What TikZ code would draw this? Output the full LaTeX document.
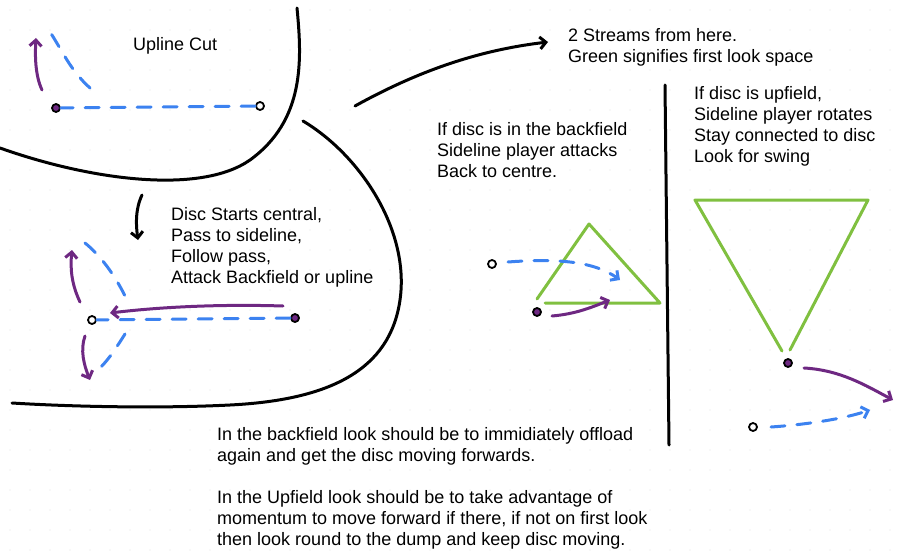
\documentclass[tikz,border=0pt]{standalone}
\usepackage{fontspec}
\setmainfont{Liberation Sans}
\usetikzlibrary{arrows.meta}
\definecolor{cutblue}{HTML}{3C82F0}
\definecolor{runpurple}{HTML}{6E2882}
\definecolor{spacegreen}{HTML}{80C040}
\begin{document}
\begin{tikzpicture}[x=1pt,y=-1pt,line cap=round,line join=round,
  pen/.style={line width=3pt},
  field/.style={pen,black},
  cut/.style={pen,cutblue,dash pattern=on 14pt off 12pt},
  run/.style={pen,runpurple},
  space/.style={line width=3pt,spacegreen},
  tip/.style={-{Straight Barb[length=6pt,width=12pt]}},
  player/.style={circle,draw=black,line width=1.8pt,inner sep=0pt,minimum size=8pt,fill=#1},
  note/.style={align=left,anchor=north west,inner sep=0pt,font=\fontsize{18}{21}\selectfont}]
\useasboundingbox (0,0) rectangle (907,559);
%% dotted paper
\foreach \gx in {10,30,...,900} \foreach \gy in {10,30,...,550}
  \fill[black!12] (\gx,\gy) circle (0.7pt);
%% field lines
\draw[field] (297,8) .. controls (302,60) and (305,120) .. (250,160)
  .. controls (200,195) and (90,180) .. (0,148);
\draw[field] (303,121) .. controls (360,155) and (410,230) .. (400,300)
  .. controls (390,370) and (330,400) .. (230,405)
  .. controls (150,409) and (60,406) .. (12,403);
\draw[field] (665,85) -- (669,445);
\draw[field,tip] (355,106) .. controls (420,70) and (480,50) .. (548,42);
\draw[field,tip] (142,195) .. controls (135,210) and (136,225) .. (138,240);
%% upline cut
\node[player=runpurple] (up_a) at (56,108) {};
\node[player=white] (up_b) at (260,106) {};
\draw[cut] (up_b) -- (up_a);
\draw[cut] (90,88) .. controls (70,70) and (62,50) .. (50,32);
\draw[run,tip] (42,90) .. controls (35,75) and (35,55) .. (36,38);
\node[note] (t_upline) at (133,37) {Upline Cut};
%% disc starts central
\node[player=white] (dc_a) at (92,320) {};
\node[player=runpurple] (dc_b) at (295,318) {};
\draw[cut] (dc_b) -- (dc_a);
\draw[run,tip] (283,306) .. controls (220,304) and (160,307) .. (110,313);
\draw[cut] (85,243) .. controls (100,255) and (115,275) .. (126,298);
\draw[run,tip] (80,302) .. controls (72,285) and (70,270) .. (72,250);
\draw[cut] (125,334) .. controls (118,345) and (110,358) .. (100,368);
\draw[run,tip] (85,336) .. controls (80,350) and (84,365) .. (90,380);
\node[note] (t_central) at (171,207) {Disc Starts central,\\Pass to sideline,\\Follow pass,\\Attack Backfield or upline};
%% streams
\node[note] (t_streams) at (568,28) {2 Streams from here.\\Green signifies first look space};
%% backfield
\draw[space] (537,299) -- (589,224) -- (660,303) -- (545,303);
\node[player=white] (bf_a) at (492,264) {};
\node[player=runpurple] (bf_b) at (537,312) {};
\draw[cut,tip] (508,262) .. controls (560,258) and (595,262) .. (620,280);
\draw[run,tip] (552,316) .. controls (575,314) and (590,308) .. (610,300);
\node[note] (t_back) at (437,122) {If disc is in the backfield\\Sideline player attacks\\Back to centre.};
%% upfield
\draw[space] (782,351) -- (695,200) -- (868,200) -- (790,350);
\node[player=runpurple] (uf_a) at (788,363) {};
\node[player=white] (uf_b) at (753,427) {};
\draw[run,tip] (804,368) .. controls (840,370) and (865,385) .. (893,400);
\draw[cut,tip] (771,427) .. controls (800,425) and (840,420) .. (870,410);
\node[note] (t_up) at (694,86) {If disc is upfield,\\Sideline player rotates\\Stay connected to disc\\Look for swing};
%% summary
\node[note] (t_sum) at (217,427) {In the backfield look should be to immidiately offload\\again and get the disc moving forwards.\\[21pt]In the Upfield look should be to take advantage of\\momentum to move forward if there, if not on first look\\then look round to the dump and keep disc moving.};
\end{tikzpicture}
\end{document}
